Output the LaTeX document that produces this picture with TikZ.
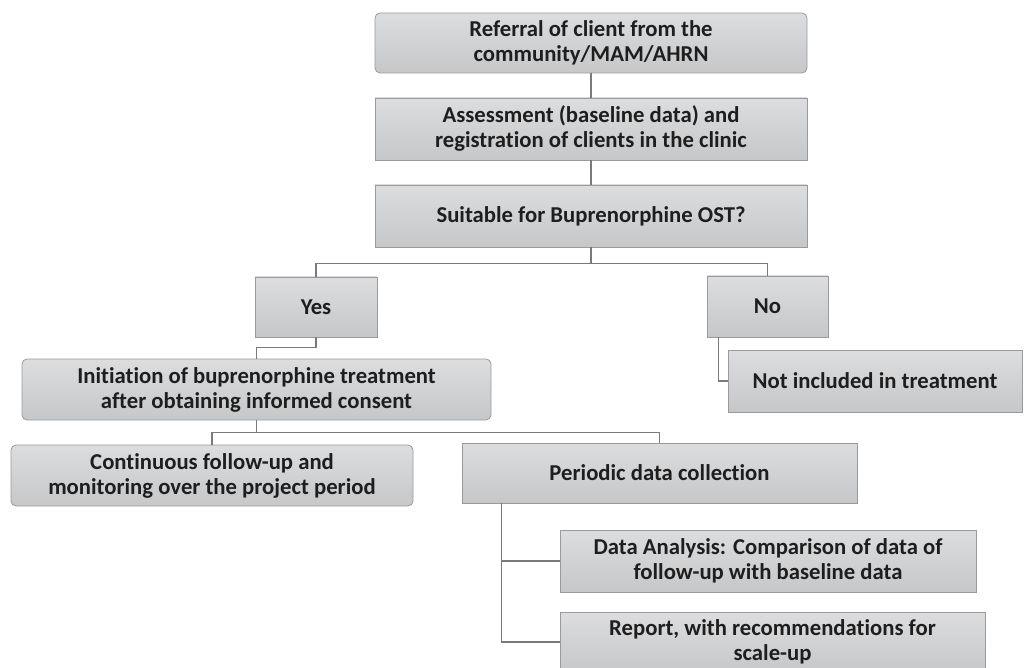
\documentclass[tikz,border=0pt]{standalone}
\usepackage{fontspec}
\setmainfont{Carlito}[Ligatures=NoCommon]
\begin{document}
\definecolor{boxtop}{HTML}{DCDDDF}
\definecolor{boxbot}{HTML}{C6C7C9}
\definecolor{boxedge}{HTML}{9A9A9C}
\definecolor{linec}{HTML}{7A7A7A}
\definecolor{textc}{HTML}{1E1E1E}
\tikzset{
  boxbase/.style={draw=boxedge, line width=0.8pt, top color=boxtop, bottom color=boxbot,
    align=center, inner sep=0pt, text=textc,
    font=\fontsize{22.7}{25}\selectfont\bfseries},
  sqbox/.style={boxbase},
  rbox/.style={boxbase, rounded corners=5pt},
  conn/.style={draw=linec, line width=1.6pt}
}
\begin{tikzpicture}[x=1pt,y=-1pt]
\useasboundingbox (0,0) rectangle (1025,668);
\node[rbox, minimum width=432pt, minimum height=60pt] (ref) at (591,43) {Referral of client from the\\community/MAM/AHRN};
\node[sqbox, minimum width=432pt, minimum height=62pt] (ass) at (591,129) {Assessment (baseline data) and\\registration of clients in the clinic};
\node[sqbox, minimum width=432pt, minimum height=62pt] (suit) at (591,216) {Suitable for Buprenorphine OST?};
\node[sqbox, minimum width=122pt, minimum height=60pt] (yes) at (316,307) {Yes};
\node[sqbox, minimum width=121pt, minimum height=61pt] (no) at (767.5,306.5) {No};
\node[sqbox, minimum width=294pt, minimum height=62pt] (notinc) at (875,381) {Not included in treatment};
\node[rbox, minimum width=469pt, minimum height=61pt] (init) at (256.5,389.5) {Initiation of buprenorphine treatment\\after obtaining informed consent};
\node[rbox, minimum width=402pt, minimum height=61pt] (cont) at (212,475.5) {Continuous follow-up and\\monitoring over the project period};
\node[sqbox, minimum width=395pt, minimum height=60pt] (per) at (659.5,473) {Periodic data collection};
\node[sqbox, minimum width=416pt, minimum height=62pt] (da) at (768,561) {Data Analysis: Comparison of data of\\follow-up with baseline data};
\node[sqbox, minimum width=425pt, minimum height=60pt] (rep) at (772.5,642) {Report, with recommendations for\\scale-up};

\draw[conn] (ref.south) -- (ass.north);
\draw[conn] (ass.south) -- (suit.north);
\draw[conn] (suit.south) -- ++(0,16) coordinate (sj);
\draw[conn] (sj) -| (yes.north);
\draw[conn] (sj) -| (no.north);
\draw[conn] (yes.south) -- ++(0,10) -| (init.north);
\draw[conn] ([xshift=12pt]no.south west) |- (notinc.west);
\draw[conn] (init.south) -- ++(0,12) coordinate (ij);
\draw[conn] (ij) -| (cont.north);
\draw[conn] (ij) -| (per.north);
\draw[conn] ([xshift=40pt]per.south west) |- (da.west);
\draw[conn] ([xshift=40pt]per.south west) |- (rep.west);
\end{tikzpicture}
\end{document}
